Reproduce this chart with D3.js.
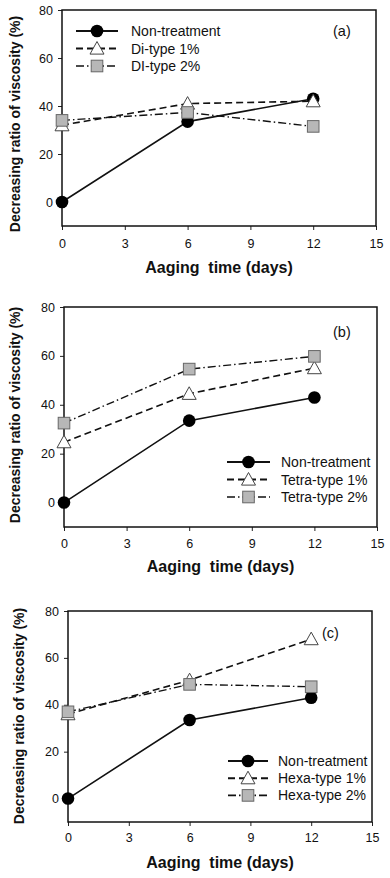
<!DOCTYPE html>
<html>
<head>
<meta charset="utf-8">
<script src="https://cdn.jsdelivr.net/npm/d3@7"></script>
<style>
  body { margin: 0; background: #fff; }
  text { font-family: "Liberation Sans", Arial, sans-serif; fill: #111; }
</style>
</head>
<body>
<div id="chart"></div>
<script>
// ---------------  DATA  ---------------
const days = [0, 6, 12];
const xTicks = [0, 3, 6, 9, 12, 15];
const yTicks = [0, 20, 40, 60, 80];

const nonTreatment = [0, 33.5, 43];
const diType1 = [32, 41, 42];
const diType2 = [34, 37.3, 31.5];
const tetraType1 = [24.7, 44.5, 55];
const tetraType2 = [32.5, 54.6, 59.8];
const hexaType1 = [36, 50.5, 68];
const hexaType2 = [37, 48.7, 47.7];

const namesA = ["Non-treatment", "Di-type 1%", "DI-type 2%"];
const namesB = ["Non-treatment", "Tetra-type 1%", "Tetra-type 2%"];
const namesC = ["Non-treatment", "Hexa-type 1%", "Hexa-type 2%"];

// ---------------  STYLES  ---------------
const styles = [
  { marker: "circle", dash: null, width: 1.6, legendWidth: 2 },
  { marker: "triangle", dash: "7,4", width: 1.6, legendWidth: 2 },
  { marker: "square", dash: "8,3,1.5,3", width: 1.4, legendWidth: 1.6 }
];

const panels = [
  { top: 10, bottom: 226, left: 62, right: 376, tag: "(a)", tagX: 333, tagY: 36,
    names: namesA, values: [nonTreatment, diType1, diType2],
    legX: 76, legY: 31, legDy: 17.5, legLen: 42, legTextX: 131,
    yTitleX: 20, yTitleY: 124, xTitleY: 273, tickY: 248 },
  { top: 307, bottom: 527, left: 64, right: 377, tag: "(b)", tagX: 333, tagY: 337,
    names: namesB, values: [nonTreatment, tetraType1, tetraType2],
    legX: 227, legY: 462, legDy: 17.5, legLen: 43, legTextX: 281,
    yTitleX: 20, yTitleY: 415, xTitleY: 572, tickY: 548 },
  { top: 611, bottom: 822, left: 68, right: 372, tag: "(c)", tagX: 322, tagY: 638,
    names: namesC, values: [nonTreatment, hexaType1, hexaType2],
    legX: 228, legY: 761, legDy: 17.2, legLen: 40, legTextX: 278,
    yTitleX: 24, yTitleY: 716, xTitleY: 868, tickY: 842 }
];

const svg = d3.select("#chart").append("svg")
  .attr("width", 390).attr("height", 878);

function marker(g, type, x, y) {
  if (type === "circle") {
    g.append("circle").attr("cx", x).attr("cy", y).attr("r", 6.3)
      .attr("fill", "#000");
  } else if (type === "triangle") {
    const s = 7;
    g.append("path")
      .attr("d", `M${x},${y - s}L${x + s},${y + s * 0.8}L${x - s},${y + s * 0.8}Z`)
      .attr("fill", "#fff").attr("stroke", "#444").attr("stroke-width", 1);
  } else {
    const s = 5.8;
    g.append("rect").attr("x", x - s).attr("y", y - s)
      .attr("width", 2 * s).attr("height", 2 * s)
      .attr("fill", "#b7b7b7").attr("stroke", "#666").attr("stroke-width", 1);
  }
}

panels.forEach(p => {
  const g = svg.append("g");
  const x = d3.scaleLinear().domain([0, 15]).range([p.left, p.right]);
  const y = d3.scaleLinear().domain([-10, 80]).range([p.bottom, p.top]);

  // axes
  const xAxis = g.append("g").attr("transform", `translate(0,${p.bottom})`)
    .call(d3.axisBottom(x).tickValues(xTicks).tickSize(4).tickPadding(4));
  const yAxis = g.append("g").attr("transform", `translate(${p.left},0)`)
    .call(d3.axisLeft(y).tickValues(yTicks).tickSize(4).tickPadding(5));
  [xAxis, yAxis].forEach(a => {
    a.select(".domain").remove();
    a.selectAll("line").attr("stroke", "#222");
    a.selectAll("text").attr("font-size", 12.5)
      .style("font-family", "'Liberation Sans', Arial, sans-serif").attr("fill", "#222");
  });
  xAxis.selectAll("text").attr("y", null).attr("dy", null)
    .attr("y", p.tickY - p.bottom);

  // frame
  g.append("rect").attr("x", p.left).attr("y", p.top)
    .attr("width", p.right - p.left).attr("height", p.bottom - p.top)
    .attr("fill", "none").attr("stroke", "#111").attr("stroke-width", 1.5);

  // series
  p.values.forEach((vals, si) => {
    const st = styles[si];
    const pts = days.map((d, i) => [x(d), y(vals[i])]);
    g.append("path").attr("d", d3.line()(pts))
      .attr("fill", "none").attr("stroke", "#111")
      .attr("stroke-width", st.width)
      .attr("stroke-dasharray", st.dash);
    pts.forEach(pt => marker(g, st.marker, pt[0], pt[1]));
  });

  // legend
  p.names.forEach((name, i) => {
    const st = styles[i];
    const ly = p.legY + i * p.legDy;
    g.append("line").attr("x1", p.legX).attr("x2", p.legX + p.legLen)
      .attr("y1", ly).attr("y2", ly)
      .attr("stroke", "#111").attr("stroke-width", st.legendWidth)
      .attr("stroke-dasharray", st.dash);
    marker(g, st.marker, p.legX + p.legLen / 2, ly);
    g.append("text").attr("x", p.legTextX).attr("y", ly + 5)
      .attr("font-size", 14).text(name);
  });

  // tag
  g.append("text").attr("x", p.tagX).attr("y", p.tagY)
    .attr("font-size", 14.5).text(p.tag);

  // titles
  g.append("text")
    .attr("transform", `translate(${p.yTitleX},${p.yTitleY}) rotate(-90)`)
    .attr("text-anchor", "middle").attr("font-size", 14).attr("font-weight", "bold")
    .text("Decreasing ratio of viscosity (%)");
  g.append("text").attr("x", (p.left + p.right) / 2).attr("y", p.xTitleY)
    .attr("text-anchor", "middle").attr("font-size", 16).attr("font-weight", "bold")
    .style("white-space", "pre")
    .text("Aaging  time (days)");
});
</script>
</body>
</html>
